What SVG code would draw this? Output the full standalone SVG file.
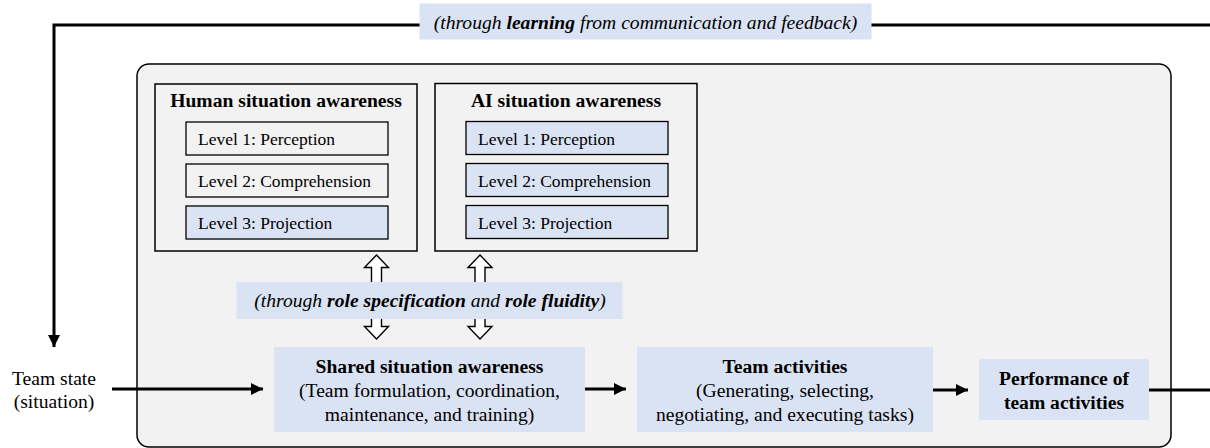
<svg xmlns="http://www.w3.org/2000/svg" width="1210" height="448" viewBox="0 0 1210 448">
<style>
text{font-family:"Liberation Serif","Times New Roman",serif;fill:#000}
.t{font-size:19.6px}
.lv{font-size:17.5px}
.b{font-weight:bold}
.i{font-style:italic}
.blue{fill:#dae3f3;stroke:none}
.box{fill:none;stroke:#000;stroke-width:1.5}
.lvl{fill:#f2f2f2;stroke:#000;stroke-width:1.3}
.lvlb{fill:#dae3f3;stroke:#000;stroke-width:1.3}
.conn{fill:none;stroke:#000;stroke-width:3}
.hollow{fill:#fff;stroke:#000;stroke-width:1.4}
</style>
<defs>
<marker id="ah" viewBox="0 0 10 10" refX="10" refY="5" markerWidth="4" markerHeight="4" markerUnits="strokeWidth" orient="auto">
<path d="M0,0 L10,5 L0,10 Z" fill="#000"/>
</marker>
</defs>
<rect width="1210" height="448" fill="#fff"/>
<g id="container">
<rect x="137" y="64" width="1034" height="383" rx="12" ry="12" fill="#f2f2f2" stroke="#000" stroke-width="1.5"/>
</g>
<g id="connectors">
<path class="conn" d="M1210,25 L54,25 L54,347" marker-end="url(#ah)"/>
<line class="conn" x1="112" y1="389" x2="263" y2="389" marker-end="url(#ah)"/>
<line class="conn" x1="585" y1="389" x2="626" y2="389" marker-end="url(#ah)"/>
<line class="conn" x1="933" y1="390" x2="968" y2="390" marker-end="url(#ah)"/>
<line class="conn" x1="1149" y1="390" x2="1210" y2="390"/>
<path class="hollow" d="M376.5,255 L388.5,267.5 L381.5,267.5 L381.5,326.5 L388.5,326.5 L376.5,339 L364.5,326.5 L371.5,326.5 L371.5,267.5 L364.5,267.5 Z"/>
<path class="hollow" d="M480,255 L492,267.5 L485,267.5 L485,326.5 L492,326.5 L480,339 L468,326.5 L475,326.5 L475,267.5 L468,267.5 Z"/>
</g>
<g id="feedback-label">
<rect class="blue" x="419.5" y="3.5" width="452" height="36"/>
<text class="t i" x="645.5" y="29" text-anchor="middle">(through <tspan class="b">learning</tspan> from communication and feedback)</text>
</g>
<g id="human-sa">
<rect class="box" x="155" y="84" width="262" height="167"/>
<text class="t b" x="286" y="107" text-anchor="middle">Human situation awareness</text>
<rect class="lvl" x="186" y="122" width="202" height="33"/>
<text class="lv" x="198" y="145">Level 1: Perception</text>
<rect class="lvl" x="186" y="164" width="202" height="33"/>
<text class="lv" x="198" y="187">Level 2: Comprehension</text>
<rect class="lvlb" x="186" y="206" width="202" height="33"/>
<text class="lv" x="198" y="229">Level 3: Projection</text>
</g>
<g id="ai-sa">
<rect class="box" x="435" y="83.5" width="262" height="167.5"/>
<text class="t b" x="566" y="107" text-anchor="middle">AI situation awareness</text>
<rect class="lvlb" x="466" y="121.5" width="202" height="33"/>
<text class="lv" x="478" y="144.5">Level 1: Perception</text>
<rect class="lvlb" x="466" y="163.5" width="202" height="33"/>
<text class="lv" x="478" y="186.5">Level 2: Comprehension</text>
<rect class="lvlb" x="466" y="205.5" width="202" height="33"/>
<text class="lv" x="478" y="228.5">Level 3: Projection</text>
</g>
<g id="role-label">
<rect class="blue" x="236.5" y="282" width="386" height="37"/>
<text class="t i" x="430" y="306.5" text-anchor="middle">(through <tspan class="b">role specification</tspan> and <tspan class="b">role fluidity</tspan>)</text>
</g>
<g id="team-state">
<text class="t" x="54" y="385" text-anchor="middle">Team state</text>
<text class="t" x="54" y="408" text-anchor="middle">(situation)</text>
</g>
<g id="shared-sa">
<rect class="blue" x="274" y="347" width="311" height="85"/>
<text class="t b" x="429.5" y="372.7" text-anchor="middle">Shared situation awareness</text>
<text class="t" x="429.5" y="396.7" text-anchor="middle">(Team formulation, coordination,</text>
<text class="t" x="429.5" y="420.7" text-anchor="middle">maintenance, and training)</text>
</g>
<g id="team-activities">
<rect class="blue" x="637" y="347" width="296" height="85"/>
<text class="t b" x="785" y="372.7" text-anchor="middle">Team activities</text>
<text class="t" x="785" y="396.7" text-anchor="middle">(Generating, selecting,</text>
<text class="t" x="785" y="420.7" text-anchor="middle">negotiating, and executing tasks)</text>
</g>
<g id="performance">
<rect class="blue" x="979" y="359" width="170" height="61"/>
<text class="t b" x="1064" y="385" text-anchor="middle">Performance of</text>
<text class="t b" x="1064" y="408.5" text-anchor="middle">team activities</text>
</g>
</svg>
